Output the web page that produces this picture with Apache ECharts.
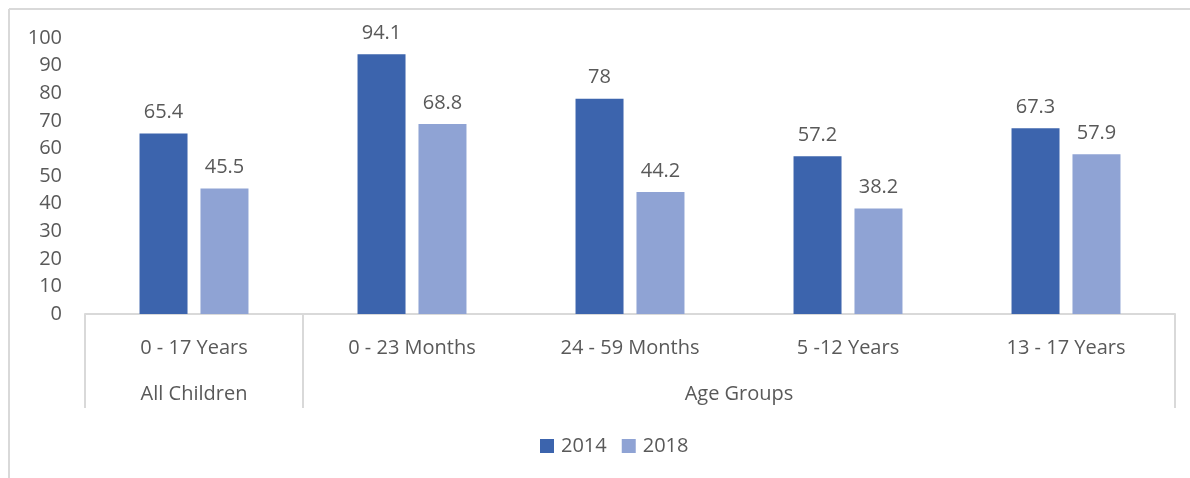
<!DOCTYPE html>
<html>
<head>
<meta charset="utf-8">
<script src="https://cdn.jsdelivr.net/npm/echarts@6/dist/echarts.min.js"></script>
<style>
  html, body { margin: 0; padding: 0; background: #fff; }
  #chart { width: 1190px; height: 478px; }
</style>
</head>
<body>
<div id="chart"></div>
<script>
const categories = ['0 - 17 Years', '0 - 23 Months', '24 - 59 Months', '5 -12 Years', '13 - 17 Years'];
const values2014 = [65.4, 94.1, 78, 57.2, 67.3];
const values2018 = [45.5, 68.8, 44.2, 38.2, 57.9];
// groups: label and how many categories it spans
const groupNames = ['All Children', 'Age Groups'];
const groupSpans = [1, 4];

const textColor = '#595959';
const lineColor = '#D9D9D9';
const font = 'Open Sans';
const fs = 20;

const chart = echarts.init(document.getElementById('chart'));

const barLabel = {
  show: true, position: 'top', distance: 11,
  color: textColor, fontFamily: font, fontSize: fs
};

chart.setOption({
  animation: false,
  grid: { left: 85, right: 15, top: 38, bottom: 164 },
  legend: {
    data: ['2014', '2018'],
    bottom: 17, left: 535,
    icon: 'rect', itemWidth: 14, itemHeight: 14, itemGap: 15,
    textStyle: { color: textColor, fontFamily: font, fontSize: fs, padding: [0, 0, 0, 2] }
  },
  xAxis: {
    type: 'category',
    data: categories,
    axisLine: { lineStyle: { color: lineColor, width: 2 } },
    axisTick: { show: false },
    axisLabel: { color: textColor, fontFamily: font, fontSize: fs, margin: 24 }
  },
  yAxis: {
    type: 'value', min: 0, max: 100, interval: 10,
    splitLine: { show: false },
    axisLine: { show: false },
    axisTick: { show: false },
    axisLabel: { color: textColor, fontFamily: font, fontSize: fs, margin: 23 }
  },
  series: [
    { name: '2014', type: 'bar', data: values2014, barWidth: 48, barGap: '27%',
      itemStyle: { color: '#3C64AD' }, label: barLabel },
    { name: '2018', type: 'bar', data: values2018, barWidth: 48,
      itemStyle: { color: '#8FA3D4' }, label: barLabel }
  ]
});

// multi-level axis: separators and group labels
const y0 = chart.convertToPixel({ yAxisIndex: 0 }, 0);
const step = chart.convertToPixel({ xAxisIndex: 0 }, categories[1]) - chart.convertToPixel({ xAxisIndex: 0 }, categories[0]);
const startX = chart.convertToPixel({ xAxisIndex: 0 }, categories[0]) - step / 2;
const graphics = [
  { type: 'line', shape: { x1: 9, y1: 9, x2: 1190, y2: 9 }, style: { stroke: lineColor, lineWidth: 2 } },
  { type: 'line', shape: { x1: 9, y1: 9, x2: 9, y2: 478 }, style: { stroke: lineColor, lineWidth: 2 } }
];
let idx = 0;
const bounds = [startX];
groupSpans.forEach((span, g) => {
  const a = startX + idx * step;
  const b = a + span * step;
  graphics.push({
    type: 'text',
    style: { x: (a + b) / 2, y: y0 + 80, text: groupNames[g], align: 'center', verticalAlign: 'middle',
      fill: textColor, font: fs + 'px "' + font + '"' }
  });
  idx += span;
  bounds.push(b);
});
bounds.forEach(x => {
  graphics.push({ type: 'line', shape: { x1: x, y1: y0, x2: x, y2: y0 + 94 },
    style: { stroke: lineColor, lineWidth: 2 } });
});
chart.setOption({ graphic: graphics });
</script>
</body>
</html>
